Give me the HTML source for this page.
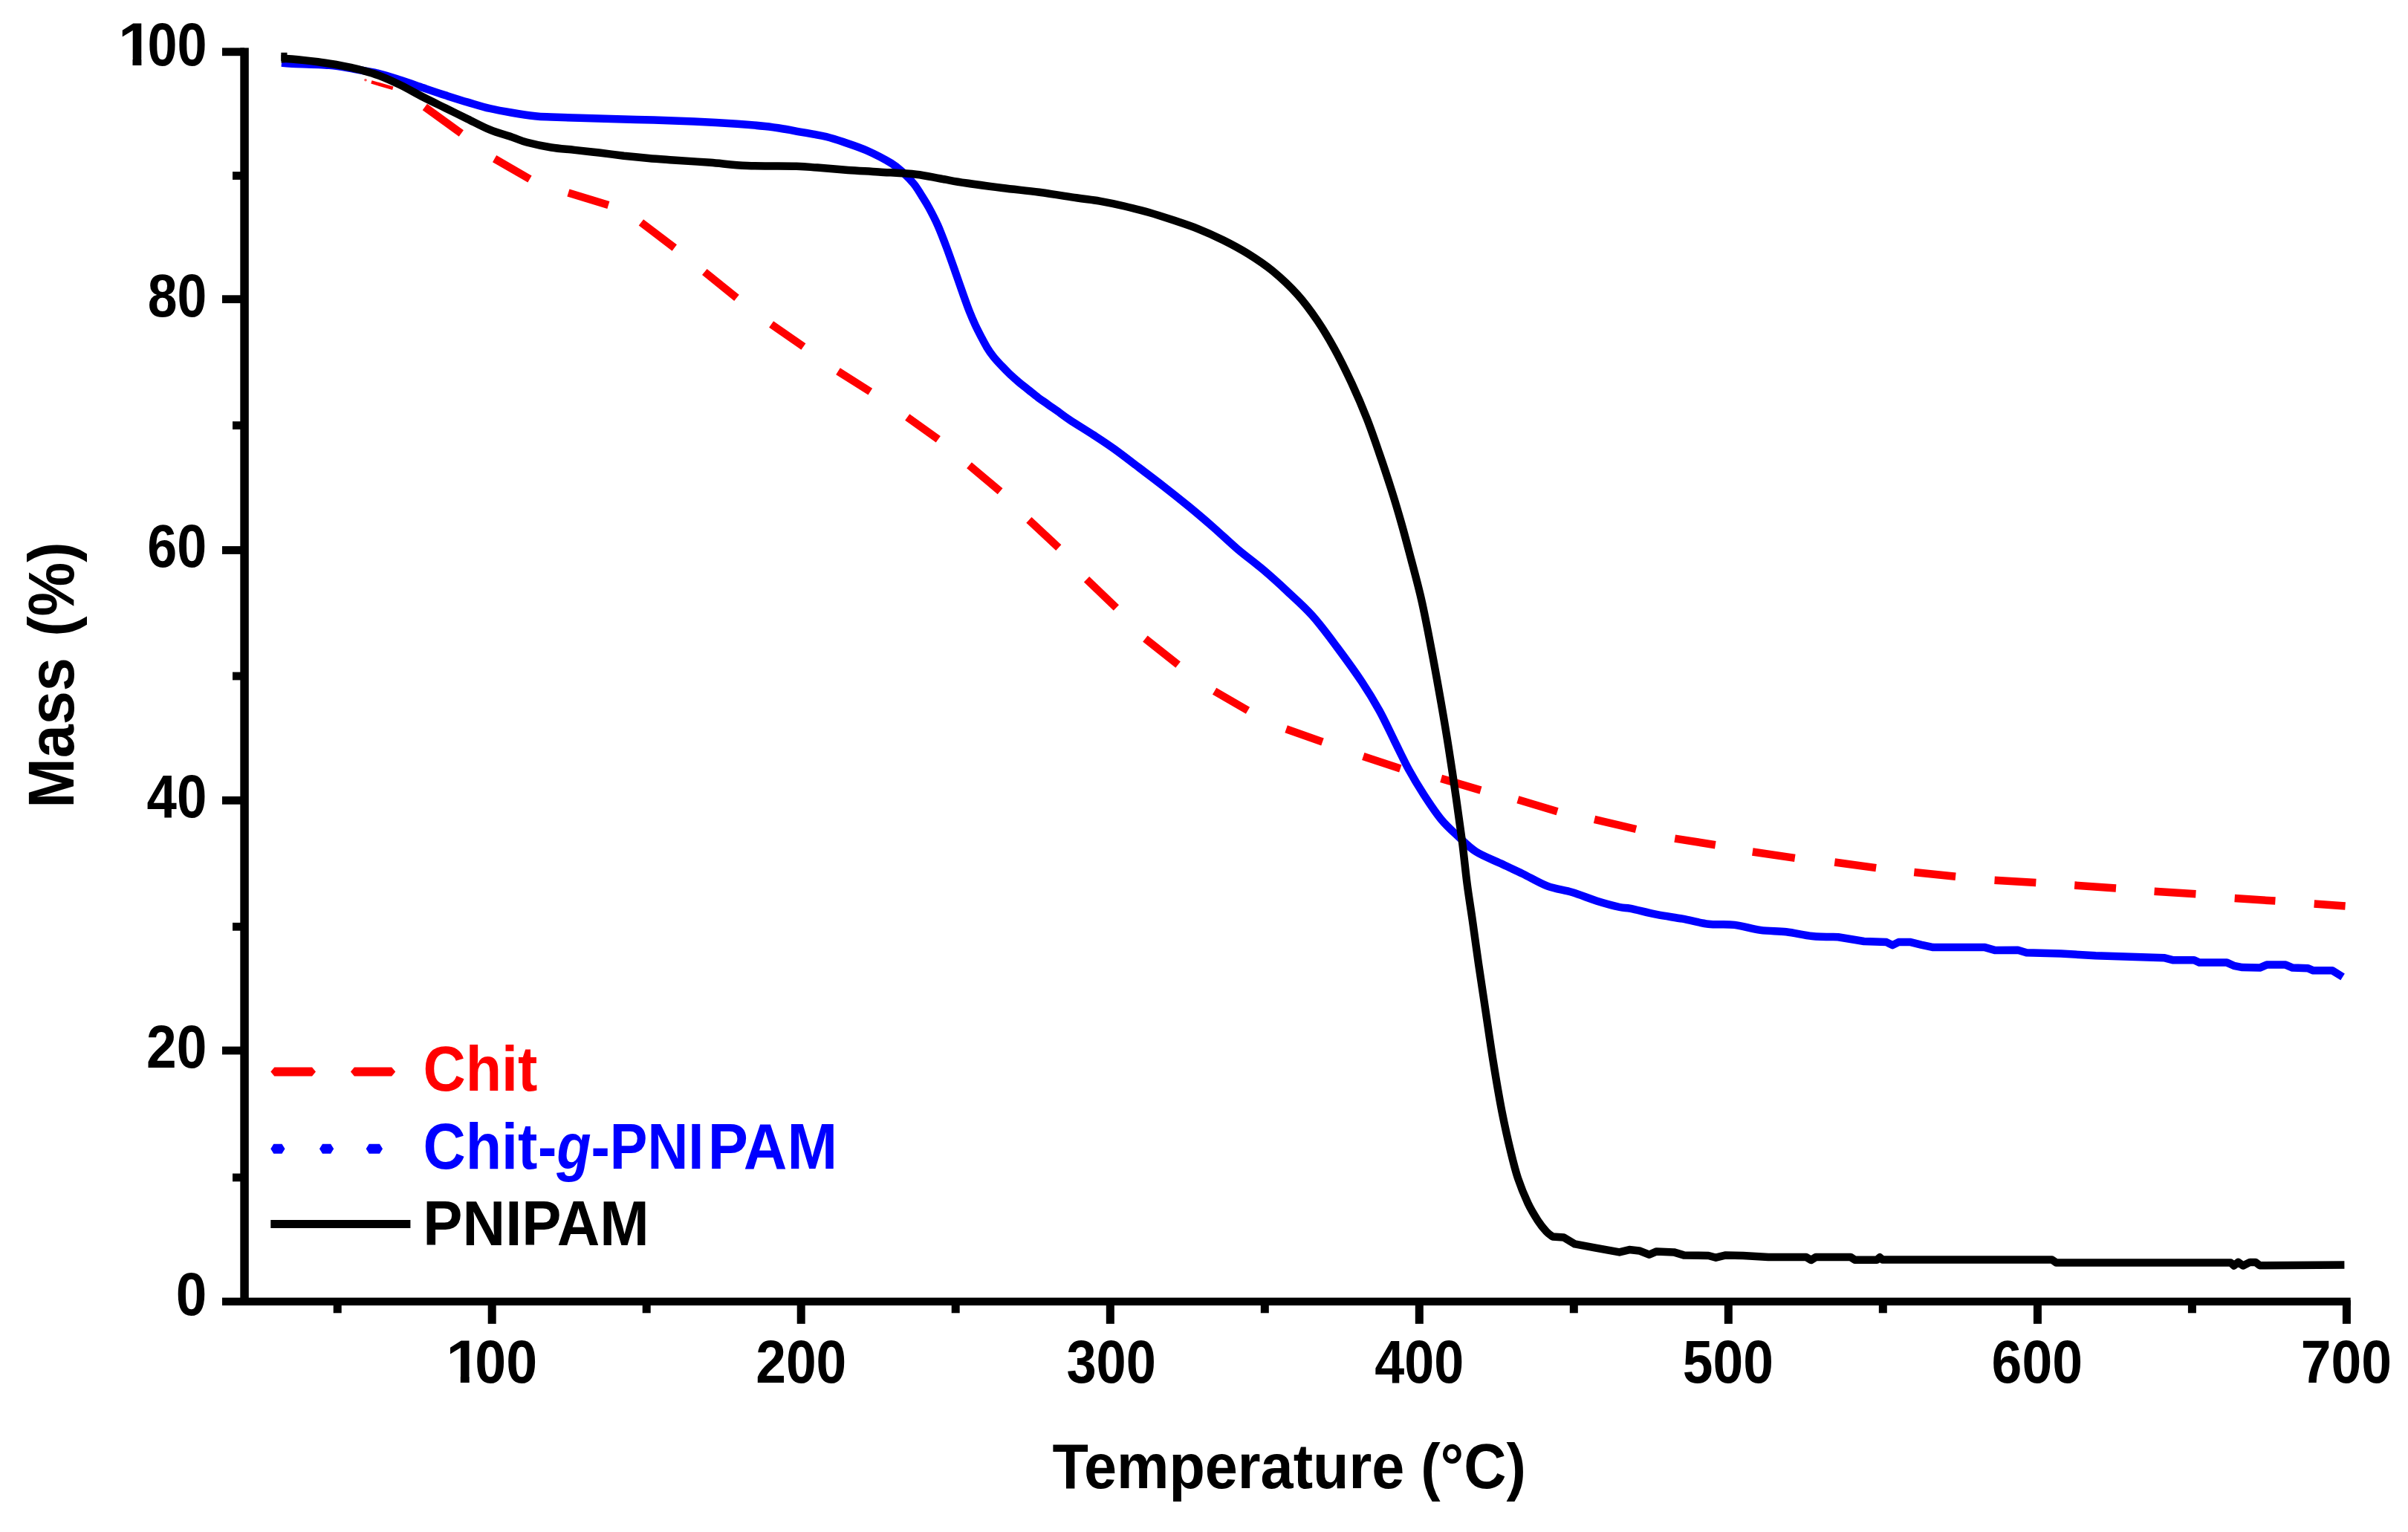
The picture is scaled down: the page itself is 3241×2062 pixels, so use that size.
<!DOCTYPE html>
<html><head><meta charset="utf-8"><title>TGA</title>
<style>
html,body{margin:0;padding:0;background:#fff;}
body{width:3241px;height:2062px;position:relative;overflow:hidden;font-family:"Liberation Sans",sans-serif;}
svg{position:absolute;left:0;top:0;}
.t{position:absolute;left:0;top:0;transform-origin:0 0;white-space:nowrap;line-height:1;font-weight:bold;font-family:"Liberation Sans",sans-serif;}
.w{position:absolute;background:#fff;display:block;}
</style></head><body>
<svg width="3241" height="2062" viewBox="0 0 3241 2062">
<g stroke="#ff0000" fill="none" stroke-linecap="butt">
<line x1="499.9" y1="110.4" x2="528.8" y2="118.8" stroke-width="4.6"/>
<line x1="571.8" y1="143.9" x2="620.8" y2="179.6" stroke-width="10.5"/>
<line x1="665.6" y1="213.6" x2="713.0" y2="241.0" stroke-width="10.5"/>
<line x1="764.9" y1="259.5" x2="818.9" y2="276.1" stroke-width="10.5"/>
<line x1="862.9" y1="299.4" x2="907.8" y2="333.5" stroke-width="10.5"/>
<line x1="948.3" y1="366.0" x2="991.5" y2="400.9" stroke-width="10.5"/>
<line x1="1038.1" y1="436.5" x2="1081.4" y2="466.5" stroke-width="10.5"/>
<line x1="1128.0" y1="499.8" x2="1171.3" y2="527.1" stroke-width="10.5"/>
<line x1="1221.2" y1="561.4" x2="1262.8" y2="591.3" stroke-width="10.5"/>
<line x1="1304.5" y1="626.3" x2="1346.1" y2="661.2" stroke-width="10.5"/>
<line x1="1384.9" y1="699.9" x2="1424.8" y2="737.2" stroke-width="10.5"/>
<line x1="1462.5" y1="779.8" x2="1502.4" y2="818.0" stroke-width="10.5"/>
<line x1="1541.4" y1="859.7" x2="1585.6" y2="894.6" stroke-width="10.5"/>
<line x1="1634.6" y1="930.2" x2="1679.5" y2="956.2" stroke-width="10.5"/>
<line x1="1731.1" y1="981.2" x2="1780.0" y2="998.5" stroke-width="10.5"/>
<line x1="1834.8" y1="1018.0" x2="1884.8" y2="1034.6" stroke-width="10.5"/>
<line x1="1939.7" y1="1047.9" x2="1993.0" y2="1063.6" stroke-width="10.5"/>
<line x1="2042.9" y1="1076.2" x2="2096.1" y2="1092.2" stroke-width="10.5"/>
<line x1="2146.0" y1="1102.8" x2="2202.0" y2="1116.0" stroke-width="10.5"/>
<line x1="2254.2" y1="1128.6" x2="2308.8" y2="1137.2" stroke-width="10.5"/>
<line x1="2358.8" y1="1146.5" x2="2415.8" y2="1154.9" stroke-width="10.5"/>
<line x1="2469.3" y1="1160.5" x2="2525.1" y2="1168.1" stroke-width="10.5"/>
<line x1="2576.3" y1="1174.0" x2="2632.1" y2="1179.8" stroke-width="10.5"/>
<line x1="2684.5" y1="1184.7" x2="2740.3" y2="1188.1" stroke-width="10.5"/>
<line x1="2792.2" y1="1191.6" x2="2848.0" y2="1195.6" stroke-width="10.5"/>
<line x1="2899.6" y1="1199.8" x2="2955.4" y2="1203.3" stroke-width="10.5"/>
<line x1="3007.7" y1="1209.1" x2="3062.4" y2="1212.6" stroke-width="10.5"/>
<line x1="3114.7" y1="1216.5" x2="3156.6" y2="1219.5" stroke-width="10.5"/>
</g>
<circle cx="492" cy="107.8" r="1.8" fill="#ff5050"/>
<path d="M379.0,84.5 C381.3,84.7 382.3,85.2 393.0,85.7 C403.7,86.2 429.1,86.6 443.0,87.8 C456.9,89.0 465.2,91.0 476.3,92.9 C487.4,94.8 499.3,96.6 509.9,99.1 C520.5,101.6 529.8,104.9 539.8,108.1 C549.8,111.3 559.7,114.9 569.7,118.3 C579.7,121.7 589.6,125.1 599.6,128.3 C609.6,131.5 619.5,134.7 629.5,137.6 C639.5,140.5 649.4,143.7 659.4,146.0 C669.4,148.3 679.2,150.0 689.3,151.7 C699.4,153.4 711.2,155.2 720.0,156.2 C728.8,157.2 732.0,157.1 742.0,157.5 C752.0,157.9 766.7,158.4 780.0,158.8 C793.3,159.2 805.3,159.4 822.0,159.9 C838.7,160.4 861.3,161.0 880.0,161.6 C898.7,162.2 915.3,162.7 934.0,163.5 C952.7,164.3 976.0,165.6 992.0,166.7 C1008.0,167.8 1019.0,168.8 1030.0,170.0 C1041.0,171.2 1050.4,172.8 1058.0,174.0 C1065.6,175.2 1069.5,176.2 1075.6,177.3 C1081.7,178.4 1088.6,179.5 1094.7,180.6 C1100.8,181.7 1105.3,182.3 1112.0,184.0 C1118.7,185.7 1125.9,187.9 1135.0,191.0 C1144.1,194.1 1155.6,197.7 1166.4,202.5 C1177.2,207.3 1191.4,214.7 1199.7,219.8 C1208.0,224.9 1211.2,228.4 1216.3,233.0 C1221.3,237.6 1226.0,242.6 1230.0,247.5 C1234.0,252.4 1236.7,257.2 1240.0,262.5 C1243.3,267.8 1246.3,272.2 1250.0,279.0 C1253.7,285.8 1258.3,294.5 1262.3,303.5 C1266.3,312.5 1270.1,322.6 1274.0,333.0 C1277.9,343.4 1282.0,355.2 1285.8,366.0 C1289.6,376.8 1293.8,389.1 1297.0,398.0 C1300.2,406.9 1302.2,412.6 1304.8,419.2 C1307.4,425.8 1310.0,431.8 1312.6,437.4 C1315.2,443.0 1317.9,448.1 1320.5,453.1 C1323.1,458.1 1325.5,462.8 1328.3,467.4 C1331.1,472.0 1334.1,476.4 1337.4,480.5 C1340.7,484.6 1344.4,488.5 1347.9,492.2 C1351.4,495.9 1354.4,499.0 1358.3,502.7 C1362.2,506.4 1367.1,510.7 1371.4,514.4 C1375.8,518.1 1380.1,521.4 1384.4,524.9 C1388.8,528.4 1393.2,532.0 1397.5,535.3 C1401.8,538.5 1406.2,541.3 1410.5,544.4 C1414.8,547.5 1418.7,550.1 1423.6,553.6 C1428.5,557.1 1431.8,559.9 1440.0,565.3 C1448.2,570.7 1462.6,579.5 1472.6,586.0 C1482.6,592.5 1489.9,597.2 1500.0,604.5 C1510.1,611.8 1522.1,621.1 1533.2,629.5 C1544.3,637.9 1555.3,646.1 1566.4,654.8 C1577.5,663.4 1588.6,672.3 1599.7,681.4 C1610.8,690.5 1621.8,699.9 1632.9,709.6 C1644.0,719.3 1655.0,730.1 1666.1,739.5 C1677.2,748.9 1688.1,756.6 1699.3,766.1 C1710.5,775.6 1722.1,786.1 1733.3,796.6 C1744.5,807.1 1755.5,816.5 1766.6,829.0 C1777.7,841.5 1788.8,856.6 1799.9,871.5 C1811.0,886.4 1823.8,904.0 1833.2,918.1 C1842.6,932.2 1849.3,943.4 1856.5,956.4 C1863.7,969.4 1869.8,983.0 1876.4,996.3 C1883.1,1009.6 1889.7,1024.1 1896.4,1036.3 C1903.1,1048.5 1909.2,1058.5 1916.4,1069.6 C1923.6,1080.7 1931.9,1093.4 1939.7,1102.8 C1947.5,1112.2 1955.2,1118.9 1963.0,1126.1 C1970.8,1133.3 1976.9,1140.1 1986.3,1146.1 C1995.7,1152.1 2009.1,1157.1 2019.6,1162.1 C2030.1,1167.1 2039.0,1171.0 2049.5,1176.1 C2060.0,1181.2 2071.7,1188.5 2082.8,1192.7 C2093.9,1196.9 2105.0,1197.7 2116.1,1201.0 C2127.2,1204.3 2138.8,1209.4 2149.4,1212.7 C2160.1,1216.0 2172.4,1219.3 2180.0,1221.0 C2187.6,1222.7 2186.6,1221.1 2194.9,1222.8 C2203.2,1224.5 2218.2,1228.6 2229.8,1230.9 C2241.4,1233.2 2253.1,1234.6 2264.7,1236.7 C2276.3,1238.8 2287.9,1242.3 2299.5,1243.7 C2311.1,1245.1 2322.8,1243.5 2334.4,1244.9 C2346.0,1246.3 2357.7,1250.4 2369.3,1251.9 C2380.9,1253.5 2392.6,1252.9 2404.2,1254.2 C2415.8,1255.5 2427.5,1258.8 2439.1,1260.0 C2450.7,1261.2 2468.2,1261.0 2474.0,1261.2 L2508.8,1267.0 L2539.1,1268.1 L2547.2,1272.1 L2555.3,1268.1 L2571.6,1268.1 L2585.6,1271.6 L2601.9,1275.1 L2671.6,1275.1 L2685.6,1279.1 L2715.9,1278.8 L2727.5,1282.3 L2774.0,1283.5 L2820.5,1286.3 L2913.6,1289.3 L2925.2,1292.3 L2953.1,1292.3 L2960.1,1295.6 L2997.3,1295.6 L3006.6,1299.8 L3018.2,1302.1 L3041.5,1302.6 L3050.8,1298.6 L3076.3,1298.6 L3085.7,1302.6 L3106.6,1303.3 L3113.6,1306.3 L3139.1,1306.3 L3153.1,1314.9" fill="none" stroke="#0000ff" stroke-width="10.5" stroke-linejoin="round" stroke-linecap="butt"/>
<path d="M378.5,79.2 C380.9,79.2 384.8,78.7 393.0,79.4 C401.2,80.1 417.7,81.9 427.8,83.2 C437.9,84.5 446.5,86.0 453.7,87.2 C460.9,88.5 465.6,89.5 471.0,90.7 C476.4,91.9 479.7,92.5 486.2,94.3 C492.7,96.1 501.0,98.2 509.9,101.6 C518.8,105.0 529.8,110.0 539.8,114.9 C549.8,119.8 559.7,125.7 569.7,130.8 C579.7,135.9 589.6,140.6 599.6,145.5 C609.6,150.4 619.5,155.3 629.5,160.2 C639.5,165.1 649.4,170.6 659.4,174.7 C669.4,178.8 681.1,181.8 689.3,184.6 C697.5,187.4 700.0,189.2 708.8,191.5 C717.6,193.8 731.3,196.8 742.0,198.5 C752.7,200.2 762.5,200.7 773.2,201.9 C783.9,203.1 795.3,204.2 806.4,205.5 C817.5,206.8 828.6,208.4 839.7,209.7 C850.8,210.9 861.8,212.0 872.9,213.0 C884.0,214.0 892.2,214.5 906.1,215.5 C920.0,216.5 939.4,217.6 956.0,218.8 C972.6,220.1 986.5,222.2 1005.8,223.0 C1025.1,223.8 1056.3,223.4 1072.0,223.8 C1087.7,224.2 1088.4,224.8 1100.0,225.6 C1111.6,226.4 1127.7,227.9 1141.5,228.9 C1155.3,229.9 1167.8,230.4 1183.0,231.4 C1198.2,232.4 1219.1,233.2 1232.9,234.7 C1246.8,236.2 1255.0,238.6 1266.1,240.5 C1277.2,242.4 1285.4,244.2 1299.3,246.3 C1313.2,248.4 1332.6,250.9 1349.2,253.0 C1365.8,255.1 1382.4,256.6 1399.0,258.8 C1415.6,261.0 1435.3,264.3 1448.8,266.3 C1462.3,268.3 1469.2,268.7 1480.0,270.6 C1490.8,272.5 1502.2,274.9 1513.3,277.5 C1524.4,280.1 1535.5,282.8 1546.6,286.0 C1557.7,289.2 1568.8,292.9 1579.9,296.6 C1591.0,300.3 1602.1,303.9 1613.2,308.3 C1624.3,312.7 1635.3,317.7 1646.4,323.2 C1657.5,328.7 1668.6,334.6 1679.7,341.5 C1690.8,348.4 1701.9,355.6 1713.0,364.8 C1724.1,374.0 1736.3,385.4 1746.3,396.5 C1756.3,407.6 1764.7,419.2 1773.0,431.4 C1781.3,443.6 1788.5,455.6 1796.2,469.7 C1804.0,483.8 1812.3,500.8 1819.5,516.3 C1826.7,531.8 1833.4,547.4 1839.5,562.9 C1845.6,578.4 1850.7,593.4 1856.2,609.5 C1861.8,625.6 1867.8,643.8 1872.8,659.5 C1877.8,675.2 1882.2,690.2 1886.1,704.0 C1890.0,717.8 1891.9,724.9 1896.4,742.0 C1900.9,759.1 1908.0,784.7 1913.0,806.6 C1918.0,828.5 1922.0,849.9 1926.4,873.2 C1930.9,896.5 1935.8,924.2 1939.7,946.4 C1943.6,968.6 1946.4,985.2 1949.7,1006.3 C1953.0,1027.4 1956.7,1051.8 1959.7,1072.9 C1962.8,1094.0 1965.5,1113.4 1968.0,1132.8 C1970.5,1152.2 1972.3,1171.5 1974.6,1189.4 C1976.9,1207.3 1979.5,1222.1 1982.0,1240.0 C1984.5,1257.9 1986.9,1276.1 1989.9,1296.6 C1992.9,1317.1 1996.6,1341.0 1999.9,1363.2 C2003.2,1385.4 2006.3,1407.5 2009.9,1429.7 C2013.5,1451.9 2017.6,1476.3 2021.5,1496.3 C2025.4,1516.3 2029.6,1534.6 2033.2,1549.6 C2036.8,1564.6 2039.2,1574.5 2043.1,1586.2 C2047.0,1597.9 2052.1,1610.1 2056.5,1619.5 C2060.9,1628.9 2065.7,1636.4 2069.8,1642.8 C2074.0,1649.2 2078.1,1654.2 2081.4,1657.8 C2084.7,1661.4 2088.3,1663.3 2089.7,1664.4 L2104.7,1665.4 L2119.7,1674.4 L2146.3,1679.4 L2179.6,1685.4 L2193.0,1682.1 L2206.3,1683.4 L2219.6,1688.7 L2229.6,1684.4 L2252.9,1685.4 L2266.2,1689.4 L2299.5,1690.0 L2309.5,1692.7 L2322.8,1689.4 L2346.1,1690.0 L2380.0,1692.0 L2431.0,1692.0 L2437.6,1696.0 L2444.0,1692.0 L2490.8,1692.0 L2496.4,1695.7 L2526.3,1695.7 L2530.0,1692.3 L2533.8,1695.5 L2761.8,1695.5 L2767.4,1699.4 L3002.2,1699.4 L3006.8,1703.5 L3012.5,1698.9 L3019.0,1703.5 L3028.3,1698.9 L3035.8,1698.9 L3041.4,1703.2 L3155.4,1702.6" fill="none" stroke="#000" stroke-width="10.5" stroke-linejoin="round" stroke-linecap="butt"/>
<path d="M382.4,70.8 L382.4,82" stroke="#000" stroke-width="8.2" fill="none"/>
<g fill="#000">
<rect x="323.3" y="64.4" width="11.5" height="1692.6"/>
<rect x="299" y="1746.6" width="2864.7" height="10.5"/>
<rect x="299" y="64.4" width="30" height="10.8"/>
<rect x="299" y="397.3" width="30" height="10.8"/>
<rect x="299" y="735.1" width="30" height="10.8"/>
<rect x="299" y="1071.9" width="30" height="10.8"/>
<rect x="299" y="1408.6" width="30" height="10.8"/>
<rect x="313" y="231.1" width="14" height="10.8"/>
<rect x="313" y="567.2" width="14" height="10.8"/>
<rect x="313" y="904.6" width="14" height="10.8"/>
<rect x="313" y="1241.9" width="14" height="10.8"/>
<rect x="313" y="1579.5" width="14" height="10.8"/>
<rect x="656.7" y="1750" width="11" height="31.8"/>
<rect x="1072.7" y="1750" width="11" height="31.8"/>
<rect x="1488.8" y="1750" width="11" height="31.8"/>
<rect x="1904.8" y="1750" width="11" height="31.8"/>
<rect x="2320.8" y="1750" width="11" height="31.8"/>
<rect x="2736.9" y="1750" width="11" height="31.8"/>
<rect x="3152.9" y="1750" width="11" height="31.8"/>
<rect x="448.7" y="1750" width="11" height="17.3"/>
<rect x="864.7" y="1750" width="11" height="17.3"/>
<rect x="1280.7" y="1750" width="11" height="17.3"/>
<rect x="1696.8" y="1750" width="11" height="17.3"/>
<rect x="2112.8" y="1750" width="11" height="17.3"/>
<rect x="2528.8" y="1750" width="11" height="17.3"/>
<rect x="2944.9" y="1750" width="11" height="17.3"/>
</g>
<g>
<path d="M364.3,1442.6 l5,-6 h50.7 l5,6 l-5,6 h-50.7 z" fill="#f00"/>
<path d="M471.9,1442.6 l5,-6 h50.3 l5,6 l-5,6 h-50.3 z" fill="#f00"/>
<path d="M364.3,1546.3 l4,-6.5 h11.2 l4,6.5 l-4,6.5 h-11.2 z" fill="#00f"/>
<path d="M430.0,1546.3 l4,-6.5 h11.2 l4,6.5 l-4,6.5 h-11.2 z" fill="#00f"/>
<path d="M492.7,1546.3 l4,-6.5 h14.3 l4,6.5 l-4,6.5 h-14.3 z" fill="#00f"/>
<rect x="364.3" y="1642" width="188.1" height="11" fill="#000"/>
</g>
</svg>
<div class="t" style="font-size:78px;color:#000;transform:translate(159.03px,19.65px) scale(1.0816,1.0394)">1<span class="w" style="left:3.91px;top:57.14px;width:13.99px;height:10.16px"></span><span class="w" style="left:29.21px;top:57.14px;width:13.30px;height:10.16px"></span></div>
<div class="t" style="font-size:78px;color:#000;transform:translate(198.53px,19.65px) scale(0.9225,1.0394)">00</div>
<div class="t" style="font-size:78px;color:#000;transform:translate(198.70px,356.95px) scale(0.9169,1.0394)">80</div>
<div class="t" style="font-size:78px;color:#000;transform:translate(198.35px,694.10px) scale(0.9211,1.0394)">60</div>
<div class="t" style="font-size:78px;color:#000;transform:translate(197.47px,1031.40px) scale(0.9316,1.0394)">40</div>
<div class="t" style="font-size:78px;color:#000;transform:translate(197.07px,1367.95px) scale(0.9364,1.0394)">20</div>
<div class="t" style="font-size:78px;color:#000;transform:translate(236.83px,1701.80px) scale(0.9578,1.0394)">0</div>
<div class="t" style="font-size:82px;color:#f00;transform:translate(569.42px,1395.76px) scale(0.9663,1.0448)">Chit</div>
<div class="t" style="font-size:82px;color:#00f;transform:translate(569.42px,1499.35px) scale(0.9663,1.0631)">Chit</div>
<div class="t" style="font-size:82px;color:#00f;transform:translate(723.91px,1499.35px) scale(0.9258,1.0631)">-<i>g</i>-PNI</div>
<div class="t" style="font-size:82px;color:#00f;transform:translate(952.66px,1499.35px) scale(0.9905,1.0631)">PAM</div>
<div class="t" style="font-size:82px;color:#000;transform:translate(569.35px,1604.79px) scale(0.9731,1.0364)">PNIPAM</div>
<div class="t" style="font-size:82px;color:#000;transform:translate(1416.51px,1931.37px) scale(0.9655,1.0411)">Temperature (&deg;C)</div>
<div class="t" style="font-size:82px;color:#000;transform:translate(24.96px,1087.83px) rotate(-90deg) scale(0.9878,1.0702)">Mass</div>
<div class="t" style="font-size:82px;color:#000;transform:translate(24.96px,856.80px) rotate(-90deg) scale(0.9980,1.0702)">(%)</div>
<div class="t" style="font-size:78px;color:#000;transform:translate(1017.16px,1792.60px) scale(0.9388,1.0394)">200</div>
<div class="t" style="font-size:78px;color:#000;transform:translate(1435.42px,1792.60px) scale(0.9258,1.0394)">300</div>
<div class="t" style="font-size:78px;color:#000;transform:translate(1850.19px,1792.60px) scale(0.9221,1.0394)">400</div>
<div class="t" style="font-size:78px;color:#000;transform:translate(2264.86px,1792.60px) scale(0.9380,1.0394)">500</div>
<div class="t" style="font-size:78px;color:#000;transform:translate(2680.60px,1792.60px) scale(0.9401,1.0394)">600</div>
<div class="t" style="font-size:78px;color:#000;transform:translate(3096.83px,1792.60px) scale(0.9390,1.0394)">700</div>
<div class="t" style="font-size:78px;color:#000;transform:translate(600.33px,1792.60px) scale(1.0816,1.0394)">1<span class="w" style="left:3.91px;top:57.14px;width:13.99px;height:10.16px"></span><span class="w" style="left:29.21px;top:57.14px;width:13.30px;height:10.16px"></span></div>
<div class="t" style="font-size:78px;color:#000;transform:translate(639.20px,1792.60px) scale(0.9672,1.0394)">00</div>
</body></html>
